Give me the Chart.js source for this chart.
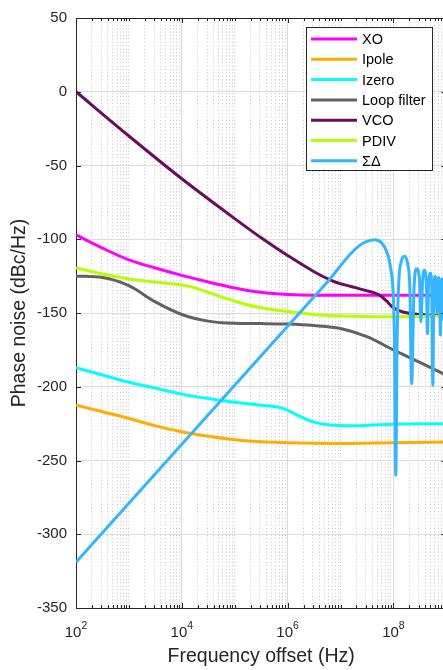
<!DOCTYPE html>
<html>
<head>
<meta charset="utf-8">
<script src="https://cdn.jsdelivr.net/npm/chart.js@4.4.1/dist/chart.umd.min.js"></script>
<style>
  html, body { margin: 0; padding: 0; background: #fff; overflow: hidden; }
</style>
</head>
<body>
<canvas id="chart" width="450" height="670"></canvas>
<script>
// frequency offsets are given as decade exponents (10^exp Hz), values in dBc/Hz
const seriesNames = ['XO', 'Ipole', 'Izero', 'Loop filter', 'VCO', 'PDIV', 'ΣΔ'];
const seriesColors = ['#ff00ff', '#ffad00', '#00ffff', '#626262', '#6a0d5f', '#b4ff00', '#35b5ff'];

const xoExp = [2, 2.5, 3, 3.5, 4, 4.5, 5, 5.5, 6, 6.5, 7, 8, 9.1];
const xoVal = [-97, -106, -114, -119.5, -124.5, -129, -133, -136, -137.5, -138, -138, -138, -138];

const ipoleExp = [2, 2.5, 3, 3.5, 4, 4.5, 5, 5.5, 6, 7, 8, 9.1];
const ipoleVal = [-212.5, -217, -221.5, -226.5, -230.5, -233.5, -236, -237.3, -238, -238.5, -238, -237.5];

const izeroExp = [2, 2.5, 3, 3.5, 4, 4.5, 5, 5.5, 5.9, 6.2, 6.5, 6.8, 7.2, 7.6, 8, 8.5, 9.1];
const izeroVal = [-187, -192, -197, -201, -205, -208, -210.5, -212.5, -214.5, -219.5, -224, -226, -226.5, -226, -225.5, -225, -225];

const loopExp = [2, 2.5, 3, 3.5, 4, 4.5, 5, 5.5, 6, 6.5, 7, 7.5, 8, 8.5, 9.1];
const loopVal = [-125, -126, -131.5, -142.5, -151, -155.5, -157, -157.2, -157.5, -158.5, -160.5, -166, -175, -183.5, -194];

const vcoExp = [2, 3, 4, 5, 5.5, 6, 6.5, 6.9, 7.2, 7.45, 7.72, 7.86, 8.0, 8.2, 8.5, 9.1];
const vcoVal = [0, -30, -59, -86, -99, -111, -122, -129, -132, -134.5, -137.5, -141.5, -146.5, -149.5, -151, -152];

const pdivExp = [2, 2.5, 3, 3.5, 4, 4.25, 4.5, 5, 5.5, 6, 6.5, 7, 8, 9.1];
const pdivVal = [-119.5, -123.5, -127, -129, -131, -133, -136, -142, -146.5, -149, -151, -152, -152.5, -152];

const sdExp = [2, 3, 4, 5, 6, 6.5, 6.8, 7.0, 7.2, 7.35, 7.5, 7.65, 7.78, 7.88, 7.95, 8.0, 8.02, 8.045, 8.07, 8.1,
  8.15, 8.21, 8.27, 8.31, 8.346, 8.39, 8.44, 8.49, 8.52, 8.555, 8.59, 8.625, 8.645, 8.665, 8.7, 8.725, 8.745,
  8.765, 8.79, 8.81, 8.825, 8.84, 8.86, 8.875, 8.89, 8.905, 8.925, 8.94, 8.95, 8.96, 8.98, 9.0];
const sdVal = [-319, -279, -239, -199, -159, -139, -127, -118, -109.5, -104.5, -101.5, -100.3, -102.5, -109, -120, -140, -170, -260, -170, -130,
  -115, -111.5, -117, -132, -198, -133, -120, -126, -156, -126, -121, -133, -164, -130, -123, -135, -199,
  -135, -125, -133, -150, -131, -126, -136, -165, -132, -127, -140, -155, -131, -128, -135];

const seriesExp = [xoExp, ipoleExp, izeroExp, loopExp, vcoExp, pdivExp, sdExp];
const seriesVal = [xoVal, ipoleVal, izeroVal, loopVal, vcoVal, pdivVal, sdVal];

const xLabelExps = [2, 4, 6, 8];
const yTicks = [50, 0, -50, -100, -150, -200, -250, -300, -350];

const FONT = '"Liberation Sans", Arial, Helvetica, sans-serif';
const INK = '#262626';

// all log ticks 1..9 x 10^k, for the dotted minor grid
let xTickValues = [];
for (let k = 2; k < 9; k++) {
    for (let m = 1; m < 10; m++) xTickValues.push(m * Math.pow(10, k));
}
xTickValues.push(1e9);

function isMajorX(v) {
    const e = Math.log10(v);
    return Math.abs(e - Math.round(e)) < 1e-9 && xLabelExps.includes(Math.round(e));
}

const datasets = seriesNames.map((name, i) => ({
    label: name,
    data: seriesExp[i].map((e, j) => ({ x: Math.pow(10, e), y: seriesVal[i][j] })),
    borderColor: seriesColors[i],
    backgroundColor: seriesColors[i],
    borderWidth: 3,
    pointRadius: 0,
    fill: false,
    cubicInterpolationMode: 'monotone',
    order: seriesNames.length - 1 - i
}));

// box, inward ticks, 10^k labels and the legend, MATLAB style
const frame = {
    id: 'frame',
    afterDraw(chart) {
        const { ctx, chartArea: a, scales: { x, y } } = chart;
        ctx.save();
        ctx.strokeStyle = INK;
        ctx.lineWidth = 1;
        ctx.beginPath();
        ctx.moveTo(a.left, a.top + 0.5);
        ctx.lineTo(a.right, a.top + 0.5);
        ctx.moveTo(a.right - 0.5, a.top);
        ctx.lineTo(a.right - 0.5, a.bottom);
        x.ticks.forEach(t => {
            const px = Math.round(x.getPixelForValue(t.value)) + 0.5;
            const len = isMajorX(t.value) ? 5 : 3;
            ctx.moveTo(px, a.bottom);
            ctx.lineTo(px, a.bottom - len);
            ctx.moveTo(px, a.top);
            ctx.lineTo(px, a.top + len);
        });
        y.ticks.forEach(t => {
            const py = Math.round(y.getPixelForValue(t.value)) + 0.5;
            ctx.moveTo(a.left, py);
            ctx.lineTo(a.left + 5, py);
            ctx.moveTo(a.right, py);
            ctx.lineTo(a.right - 5, py);
        });
        ctx.stroke();

        // x tick labels with real superscripts
        ctx.fillStyle = INK;
        ctx.textBaseline = 'alphabetic';
        ctx.textAlign = 'left';
        xLabelExps.forEach(k => {
            const px = x.getPixelForValue(Math.pow(10, k));
            ctx.font = '15px ' + FONT;
            const w1 = ctx.measureText('10').width;
            ctx.font = '10.5px ' + FONT;
            const w2 = ctx.measureText(String(k)).width;
            const start = px - (w1 + w2) / 2;
            ctx.font = '15px ' + FONT;
            ctx.fillText('10', start, a.bottom + 29);
            ctx.font = '10.5px ' + FONT;
            ctx.fillText(String(k), start + w1, a.bottom + 20.5);
        });

        // legend
        const bx = 306.5, by = 27.5, bw = 126, bh = 143;
        ctx.fillStyle = '#fff';
        ctx.fillRect(bx, by, bw, bh);
        ctx.strokeStyle = INK;
        ctx.lineWidth = 1;
        ctx.strokeRect(bx, by, bw, bh);
        ctx.font = '14.5px ' + FONT;
        ctx.textBaseline = 'middle';
        seriesNames.forEach((name, i) => {
            const ry = 39 + i * 20.3;
            ctx.strokeStyle = seriesColors[i];
            ctx.lineWidth = 3;
            ctx.beginPath();
            ctx.moveTo(311, ry);
            ctx.lineTo(357, ry);
            ctx.stroke();
            ctx.fillStyle = '#000';
            ctx.fillText(name, 362, ry + 1);
        });
        ctx.restore();
    }
};

new Chart(document.getElementById('chart'), {
    type: 'line',
    data: { datasets: datasets },
    plugins: [frame],
    options: {
        responsive: false,
        animation: false,
        layout: { padding: { top: 14, left: 0, right: 3.7, bottom: 0 } },
        plugins: { legend: { display: false }, tooltip: { enabled: false } },
        scales: {
            x: {
                type: 'logarithmic',
                min: 1e2,
                max: 1e9,
                afterBuildTicks: (scale) => {
                    scale.ticks = xTickValues.map(v => ({ value: v }));
                },
                afterFit: (scale) => { scale.height = 62; },
                ticks: { display: false, autoSkip: false, padding: 0 },
                grid: {
                    drawTicks: false,
                    lineWidth: 1,
                    color: (ctx) => (ctx.tick && isMajorX(ctx.tick.value)) ? '#dcdcdc' : '#c6c6c6'
                },
                border: {
                    display: true,
                    color: INK,
                    width: 1,
                    dash: (ctx) => (ctx.tick && !isMajorX(ctx.tick.value)) ? [1, 2.4] : []
                },
                title: {
                    display: true,
                    text: 'Frequency offset (Hz)',
                    color: INK,
                    font: { family: FONT, size: 19.5 },
                    padding: { top: 0, bottom: 2 }
                }
            },
            y: {
                min: -350,
                max: 50,
                afterBuildTicks: (scale) => {
                    scale.ticks = yTicks.map(v => ({ value: v }));
                },
                afterFit: (scale) => { scale.width = 76; },
                ticks: {
                    padding: 9,
                    color: INK,
                    font: { family: FONT, size: 15 }
                },
                grid: { drawTicks: false, color: '#dcdcdc', lineWidth: 1 },
                border: { display: true, color: INK, width: 1 },
                title: {
                    display: true,
                    text: 'Phase noise (dBc/Hz)',
                    color: INK,
                    font: { family: FONT, size: 19.5 },
                    padding: { top: 8, bottom: 0 }
                }
            }
        }
    }
});
</script>
</body>
</html>
